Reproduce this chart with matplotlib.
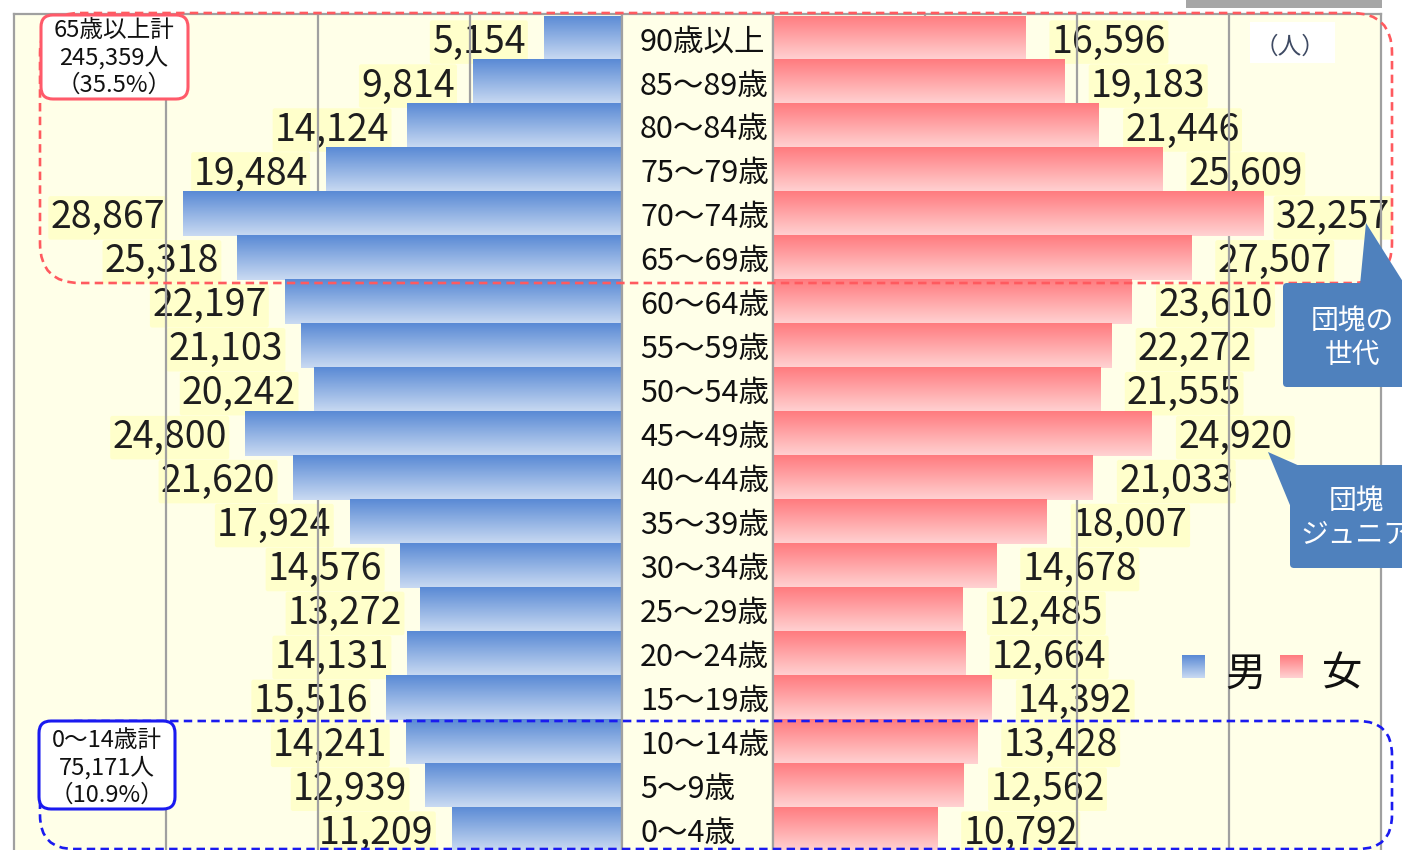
import numpy as np
import matplotlib
matplotlib.use('Agg')
import matplotlib.pyplot as plt
from matplotlib.patches import FancyBboxPatch, Polygon, Rectangle
from matplotlib.transforms import Affine2D, offset_copy
from matplotlib.colors import to_rgb

# ---------------- data ----------------
ages = ["90歳以上", "85～89歳", "80～84歳", "75～79歳", "70～74歳", "65～69歳",
        "60～64歳", "55～59歳", "50～54歳", "45～49歳", "40～44歳", "35～39歳",
        "30～34歳", "25～29歳", "20～24歳", "15～19歳", "10～14歳", "5～9歳", "0～4歳"]
male = [5154, 9814, 14124, 19484, 28867, 25318, 22197, 21103, 20242, 24800,
        21620, 17924, 14576, 13272, 14131, 15516, 14241, 12939, 11209]
female = [16596, 19183, 21446, 25609, 32257, 27507, 23610, 22272, 21555, 24920,
          21033, 18007, 14678, 12485, 12664, 14392, 13428, 12562, 10792]
grid_values = [10000, 20000, 30000]
x_max = 40000
legend_labels = ["男", "女"]
elderly_text = "65歳以上計\n245,359人\n（35.5%）"
child_text = "0～14歳計\n75,171人\n（10.9%）"
callout1 = "団塊の\n世代"
callout2 = "団塊\nジュニア"
unit_text = "（人）"

# ---------------- style ----------------
plt.rcParams['font.family'] = ['Noto Sans CJK JP', 'DejaVu Sans']
BG = '#FFFFE8'
GRID = '#A0A0A0'
M_TOP, M_BOT = '#5A8AD5', '#C9DAF2'
F_TOP, F_BOT = '#FF7B7F', '#FFD2D2'
LBL_BG = '#FFFFC6'
TXT = '#1E1E1E'

W, H = 1402, 850
fig = plt.figure(figsize=(W / 100, H / 100), dpi=100)
fig.patch.set_facecolor('white')
PX = Affine2D().scale(1 / W, -1 / H).translate(0, 1) + fig.transFigure


def ax_px(x0, y0, x1, y1, **kw):
    return fig.add_axes([x0 / W, 1 - y1 / H, (x1 - x0) / W, (y1 - y0) / H], **kw)


def grad(c_top, c_bot, n=64):
    t = np.linspace(0, 1, n)[:, None]
    a, b = np.array(to_rgb(c_top)), np.array(to_rgb(c_bot))
    return (a * (1 - t) + b * t)[:, None, :]


n = len(ages)
ypos = np.arange(n)
TOP_PX, BOT_PX = 14, 851
row_px = 43.95
units = (BOT_PX - TOP_PX) / row_px
ylim = (n - 0.5, n - 0.5 - units)
DY = -3  # points: text baseline nudge downward

axL = ax_px(14, TOP_PX, 622, BOT_PX)
axM = ax_px(622, TOP_PX, 773, BOT_PX)
axR = ax_px(773, TOP_PX, 1381, BOT_PX)

for ax in (axL, axM, axR):
    ax.set_facecolor(BG)
    for s in ax.spines.values():
        s.set_color(GRID)
        s.set_linewidth(1.6)
    ax.spines['bottom'].set_visible(False)

# --- bars ---
for ax, vals, (ct, cb), side in ((axL, male, (M_TOP, M_BOT), 'L'), (axR, female, (F_TOP, F_BOT), 'R')):
    img = grad(ct, cb)
    bars = ax.barh(ypos, vals, height=1.02, color='none', edgecolor='none', zorder=2)
    for i, (b, v) in enumerate(zip(bars, vals)):
        im = ax.imshow(img, extent=(0, v, i + 0.51, i - 0.51), origin='upper',
                       aspect='auto', interpolation='bilinear', zorder=2)
        im.set_clip_path(b)
    ax.set_ylim(*ylim)
    ax.set_xticks(grid_values)
    ax.grid(axis='x', color=GRID, lw=1.6)
    ax.set_axisbelow('line')
    ax.tick_params(axis='x', length=0, labelbottom=False)
    for i, v in enumerate(vals):
        if side == 'L':
            off, ha = -13, 'right'
        else:
            off, ha = (19 if v < 30000 else 9), 'left'
        ax.annotate(f"{v:,}", xy=(v, i), xytext=(off, DY), textcoords='offset points',
                    ha=ha, va='center', fontsize=27, color=TXT, zorder=1,
                    bbox=dict(boxstyle='round,pad=0.06', fc=LBL_BG, ec='none', alpha=0.85))

axL.set_xlim(x_max, 0)
axR.set_xlim(0, x_max)

# ticks on the left chart's inner axis
axL.yaxis.tick_right()
axL.set_yticks(np.arange(-0.5, n, 1))
axL.tick_params(axis='y', length=4.5, width=1.4, color=GRID, labelright=False, direction='out')
axR.set_yticks([])

# middle labels
axM.set_xlim(0, 1)
axM.set_ylim(*ylim)
axM.set_xticks([])
axM.set_yticks([])
mtrans = offset_copy(axM.transData, fig=fig, x=0, y=DY, units='points')
for i, a in enumerate(ages):
    axM.text((640 - 622) / 151, i, a, ha='left', va='center', fontsize=22,
             color='#111111', transform=mtrans)

# ---------------- overlays (pixel coords) ----------------
fig.add_artist(Rectangle((1186, 0), 196, 8, transform=PX, fc='#A6A6A6', ec='none'))

fig.add_artist(FancyBboxPatch((40, 13), 1352, 270, boxstyle='round,pad=0,rounding_size=40',
                              transform=PX, fc='none', ec='#FF5A5F', lw=1.9,
                              ls=(0, (3.2, 2.0)), zorder=5))
fig.add_artist(FancyBboxPatch((40, 721), 1352, 128, boxstyle='round,pad=0,rounding_size=34',
                              transform=PX, fc='none', ec='#1A1AF0', lw=1.9,
                              ls=(0, (3.2, 2.0)), zorder=5))

fig.add_artist(FancyBboxPatch((41, 15), 147, 84, boxstyle='round,pad=0,rounding_size=12',
                              transform=PX, fc='white', ec='#FF5A6A', lw=2.2, zorder=6))
fig.text(114, 58, elderly_text, transform=PX, ha='center', va='center', fontsize=17,
         linespacing=1.22, color='#111111', zorder=7)
fig.add_artist(FancyBboxPatch((39, 721), 136, 88, boxstyle='round,pad=0,rounding_size=12',
                              transform=PX, fc='white', ec='#1A1AF0', lw=2.2, zorder=6))
fig.text(107, 768, child_text, transform=PX, ha='center', va='center', fontsize=17,
         linespacing=1.22, color='#111111', zorder=7)

fig.add_artist(Rectangle((1250, 22), 85, 41, transform=PX, fc='white', ec='none', zorder=6))
fig.text(1290, 47, unit_text, transform=PX, ha='center', va='center', fontsize=17,
         color='#3E4A63', zorder=7)

CB = '#4F81BD'
fig.add_artist(Polygon([(1360, 285), (1366, 223), (1405, 285)], closed=True, transform=PX,
                       fc=CB, ec='none', zorder=6))
fig.add_artist(FancyBboxPatch((1283, 283), 150, 104, boxstyle='round,pad=0,rounding_size=4',
                              transform=PX, fc=CB, ec='none', zorder=6))
fig.text(1352, 338, callout1, transform=PX, ha='center', va='center', fontsize=20,
         linespacing=1.15, color='white', zorder=7)
fig.add_artist(Polygon([(1268, 452), (1302, 467), (1292, 510)], closed=True, transform=PX,
                       fc=CB, ec='none', zorder=6))
fig.add_artist(FancyBboxPatch((1290, 465), 150, 103, boxstyle='round,pad=0,rounding_size=4',
                              transform=PX, fc=CB, ec='none', zorder=6))
fig.text(1356, 518, callout2, transform=PX, ha='center', va='center', fontsize=20,
         linespacing=1.15, color='white', zorder=7)

for (x0, ct, cb), lab, tx in zip([(1182, M_TOP, M_BOT), (1280, F_TOP, F_BOT)], legend_labels, [1245, 1342]):
    lax = ax_px(x0, 655, x0 + 23, 678)
    lax.imshow(grad(ct, cb), aspect='auto', interpolation='bilinear')
    lax.axis('off')
    fig.text(tx, 674, lab, transform=PX, ha='center', va='center', fontsize=29,
             color='#111111', zorder=7)

fig.savefig('out.png', dpi=100, facecolor='white')
